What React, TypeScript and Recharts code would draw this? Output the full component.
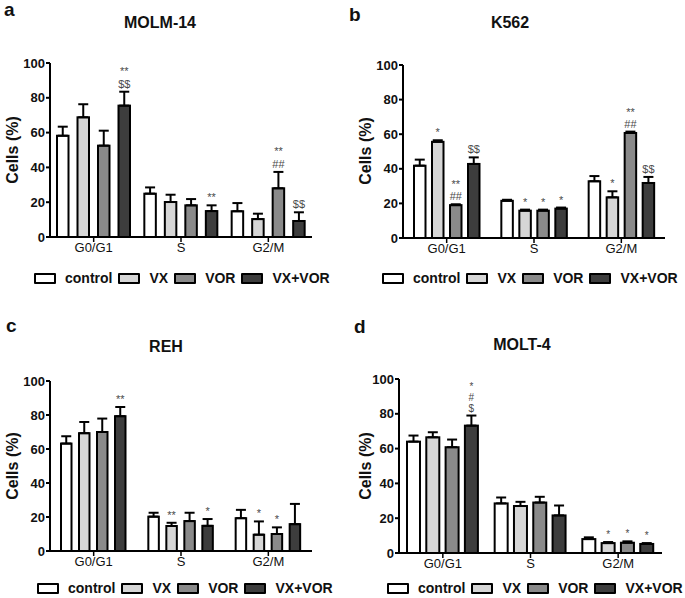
import React from 'react';
import { BarChart, Bar, XAxis, YAxis, ErrorBar } from 'recharts';

const phases = ['G0/G1', 'S', 'G2/M'];
const treatments = ['control', 'VX', 'VOR', 'VX+VOR'];
const yTicks = [0, 20, 40, 60, 80, 100];

// MOLM-14 (series order: control, VX, VOR, VX+VOR; values per phase)
const molm14Means = [[58.2, 24.9, 14.8], [68.8, 20.1, 10.3], [52.5, 18.2, 28], [75.5, 14.9, 9.2]];
const molm14Errors = [[5.2, 3.6, 4.7], [7.5, 4.2, 3.1], [8.6, 3.6, 9.4], [8, 3.3, 5]];
const molm14Marks = [['', '', ''], ['', '', ''], ['', '', '**\n##'], ['**\n$$', '**', '$$']];

// K562
const k562Means = [[41.8, 21.5, 32.8], [55.6, 15.8, 23.5], [19, 15.8, 60.7], [42.8, 17, 31.8]];
const k562Errors = [[3.5, 0.6, 3], [0.9, 0.6, 3.5], [0.5, 0.6, 0.8], [3.8, 0.6, 3.5]];
const k562Marks = [['', '', ''], ['*', '*', '*'], ['**\n##', '*', '**\n##'], ['$$', '*', '$$']];

// REH
const rehMeans = [[63.2, 20.2, 19.3], [69.3, 14.7, 9.6], [70, 17.6, 10], [79.3, 14.8, 15.8]];
const rehErrors = [[4.3, 2.3, 4.9], [6.6, 1.9, 7.8], [7.9, 4.9, 3.9], [5.4, 4, 11.9]];
const rehMarks = [['', '', ''], ['', '**', '*'], ['', '', '*'], ['**', '*', '']];

// MOLT-4
const molt4Means = [[64, 28.5, 8], [66.5, 27, 5.7], [60.8, 29, 5.9], [73.2, 21.6, 5.2]];
const molt4Errors = [[3.5, 3.4, 1], [2.9, 2.4, 0.6], [4.4, 3.3, 0.8], [5.8, 5.7, 0.5]];
const molt4Marks = [['', '', ''], ['', '', '*'], ['', '', '*'], ['*\n#\n$', '', '*']];

const FONT = '"Liberation Sans", Arial, Helvetica, sans-serif';
const treatmentColors = ['#ffffff', '#d6d6d6', '#8a8a8a', '#3d3d3d'];

const buildData = (means: number[][], errs: number[][], marks: string[][]) =>
  phases.map((p, i) => {
    const row: any = { phase: p };
    treatments.forEach((_, k) => {
      row['v' + k] = means[k][i];
      row['e' + k] = [0, errs[k][i]];
      row['m' + k] = marks[k][i];
    });
    return row;
  });

const makeShape = (k: number, fill: string, lineH: number, fs: number) => (props: any) => {
  const { x, y, width, height, payload } = props;
  const val = payload['v' + k];
  const err = payload['e' + k][1];
  const ppu = val ? height / val : 0;
  const top = y - err * ppu;
  const lines = String(payload['m' + k] || '').split('\n').filter(Boolean);
  return (
    <g>
      <rect x={x} y={y} width={width} height={height} fill={fill} stroke="#000" strokeWidth={2} />
      {lines.map((t, j) => (
        <text
          key={j}
          x={x + width / 2}
          y={top - 4 - (lines.length - 1 - j) * lineH}
          textAnchor="middle"
          fontSize={fs}
          fill="#4a4a4a"
          fontFamily={FONT}
        >
          {t}
        </text>
      ))}
    </g>
  );
};

type PanelCfg = {
  data: any[];
  left: number;
  top: number;
  width: number;
  height: number;
  margin: { top: number; right: number; bottom: number; left: number };
  barSize: number;
  barGap: number;
  lineH: number;
  markSize: number;
};

function Panel({ cfg }: { cfg: PanelCfg }) {
  return (
    <div style={{ position: 'absolute', left: cfg.left, top: cfg.top }}>
      <BarChart
        width={cfg.width}
        height={cfg.height}
        data={cfg.data}
        margin={cfg.margin}
        barSize={cfg.barSize}
        barGap={cfg.barGap}
      >
        <XAxis
          dataKey="phase"
          interval={0}
          height={20}
          tickSize={5}
          tickMargin={1}
          axisLine={{ stroke: '#000', strokeWidth: 2 }}
          tickLine={{ stroke: '#000', strokeWidth: 1.5 }}
          tick={{ fontSize: 13, fill: '#111', fontFamily: FONT }}
        />
        <YAxis
          width={50}
          domain={[0, 100]}
          ticks={yTicks}
          interval={0}
          tickSize={4}
          tickMargin={1}
          axisLine={{ stroke: '#000', strokeWidth: 2 }}
          tickLine={{ stroke: '#000', strokeWidth: 2 }}
          tick={{ fontSize: 13, fontWeight: 'bold', fill: '#111', fontFamily: FONT }}
        />
        {treatments.map((t, k) => (
          <Bar
            key={t}
            dataKey={'v' + k}
            name={t}
            fill={treatmentColors[k]}
            stroke="#000"
            strokeWidth={2}
            isAnimationActive={false}
            shape={makeShape(k, treatmentColors[k], cfg.lineH, cfg.markSize)}
          >
            <ErrorBar dataKey={'e' + k} width={5} stroke="#000" strokeWidth={2} direction="y" />
          </Bar>
        ))}
      </BarChart>
    </div>
  );
}

function LegendRow({ x, y, fontSize }: { x: number; y: number; fontSize: number }) {
  return (
    <div
      style={{
        position: 'absolute',
        left: x,
        top: y - 8,
        height: 16,
        display: 'flex',
        alignItems: 'center',
        fontFamily: FONT,
        fontWeight: 'bold',
        fontSize,
        color: '#111',
        whiteSpace: 'nowrap',
      }}
    >
      {treatments.map((t, i) => (
        <React.Fragment key={t}>
          <span
            style={{
              display: 'inline-block',
              width: 18,
              height: 7,
              border: '2px solid #000',
              borderRadius: 1,
              background: treatmentColors[i],
              marginRight: 9,
            }}
          />
          <span style={{ marginRight: 6 }}>{t}</span>
        </React.Fragment>
      ))}
    </div>
  );
}

export default function App() {
  const panels: PanelCfg[] = [
    {
      data: buildData(molm14Means, molm14Errors, molm14Marks),
      left: 0, top: 0, width: 340, height: 260,
      margin: { top: 63, right: 28, bottom: 3, left: 0 },
      barSize: 11.5, barGap: 9, lineH: 13, markSize: 11,
    },
    {
      data: buildData(k562Means, k562Errors, k562Marks),
      left: 340, top: 0, width: 340, height: 260,
      margin: { top: 65, right: 15, bottom: 2, left: 13 },
      barSize: 11.5, barGap: 6.5, lineH: 12, markSize: 11,
    },
    {
      data: buildData(rehMeans, rehErrors, rehMarks),
      left: 0, top: 300, width: 340, height: 280,
      margin: { top: 81, right: 28, bottom: 9, left: 0 },
      barSize: 10.5, barGap: 7.5, lineH: 12, markSize: 11,
    },
    {
      data: buildData(molt4Means, molt4Errors, molt4Marks),
      left: 340, top: 300, width: 340, height: 280,
      margin: { top: 79, right: 18, bottom: 7, left: 9 },
      barSize: 13, barGap: 6.3, lineH: 11, markSize: 10,
    },
  ];

  const letters = [
    { t: 'a', x: 4, y: 16 },
    { t: 'b', x: 349, y: 21 },
    { t: 'c', x: 6, y: 332 },
    { t: 'd', x: 354, y: 333 },
  ];
  const titles = [
    { t: 'MOLM-14', x: 160, y: 28 },
    { t: 'K562', x: 510, y: 28 },
    { t: 'REH', x: 166, y: 352 },
    { t: 'MOLT-4', x: 522, y: 350 },
  ];
  const yLabels = [
    { x: 12, y: 150 },
    { x: 365, y: 151 },
    { x: 12, y: 466 },
    { x: 365, y: 466 },
  ];

  return (
    <div
      style={{
        position: 'absolute',
        left: 0,
        top: 0,
        width: 685,
        height: 598,
        background: '#fff',
        overflow: 'hidden',
      }}
    >
      {panels.map((p, i) => (
        <Panel key={i} cfg={p} />
      ))}
      <svg width={685} height={598} style={{ position: 'absolute', left: 0, top: 0, pointerEvents: 'none' }}>
        {letters.map((l) => (
          <text key={l.t} x={l.x} y={l.y} fontSize={19} fontWeight="bold" fontFamily={FONT} fill="#111">
            {l.t}
          </text>
        ))}
        {titles.map((l) => (
          <text key={l.t} x={l.x} y={l.y} fontSize={16} fontWeight="bold" fontFamily={FONT} fill="#111" textAnchor="middle">
            {l.t}
          </text>
        ))}
        {yLabels.map((l, i) => (
          <text
            key={i}
            x={l.x}
            y={l.y}
            fontSize={16}
            fontWeight="bold"
            fontFamily={FONT}
            fill="#111"
            textAnchor="middle"
            dominantBaseline="central"
            transform={`rotate(-90 ${l.x} ${l.y})`}
          >
            Cells (%)
          </text>
        ))}
      </svg>
      <LegendRow x={34} y={278} fontSize={14} />
      <LegendRow x={382} y={278} fontSize={14} />
      <LegendRow x={37} y={588} fontSize={14} />
      <LegendRow x={387} y={588} fontSize={14} />
    </div>
  );
}
